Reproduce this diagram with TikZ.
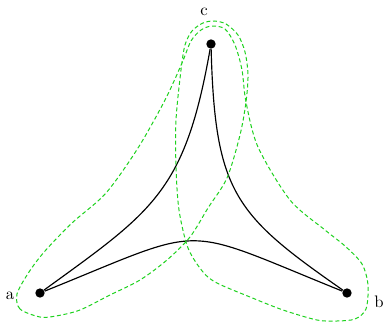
\documentclass[tikz,border=0pt]{standalone}
\definecolor{hullgreen}{RGB}{30,210,30}
\tikzset{
  dot/.style={circle,fill=black,inner sep=0pt,minimum size=5.6pt},
  hull/.style={hullgreen,line width=0.6pt,dash pattern=on 2.4pt off 1.6pt}
}
\begin{document}
\begin{tikzpicture}[x=0.6pt,y=-0.6pt]
      \useasboundingbox (0,0) rectangle (385,322);
      \foreach \n/\x/\y in {a/40/293,b/347/293,c/211/44}{
        \node[dot] (\n) at (\x,\y) {};
      }
      \foreach \n/\x/\y in {a/10/296,b/379/302,c/204/12}{
        \node (l\n) at (\x,\y) {\n};
      }
      \draw[line width=0.7pt] (a) .. controls (153,211) and (185,192) .. (c);
      \draw[line width=0.7pt] (c) .. controls (215,193) and (235,215) .. (b);
      \draw[line width=0.7pt] (a) .. controls (211,224) and (176,224) .. (b);
      \draw[hull] plot[smooth cycle,tension=0.5] coordinates {
        (40,317) (20,309) (17,294) (29,272) (45,251) (72,223) (106,193) (138,148)
        (165,100) (182,63) (191,41) (201,30) (212,26) (225,29) (235,45) (242,70)
        (246,102) (258,147) (290,200) (325,230) (345,246) (362,264) (368,285)
        (366,309) (355,319) (337,321) (317,320) (283,310) (250,297) (217,283)
        (203,272) (188,248) (179,210) (176,167) (176,120) (181,70) (185,45)
        (192,31) (203,23) (214,21) (226,24) (238,35) (245,52) (248,75) (246,102)
        (240,135) (227,178) (208,208) (190,237) (167,260) (140,280) (110,295)
        (80,310) (56,316)
      };
    \end{tikzpicture}
\end{document}
